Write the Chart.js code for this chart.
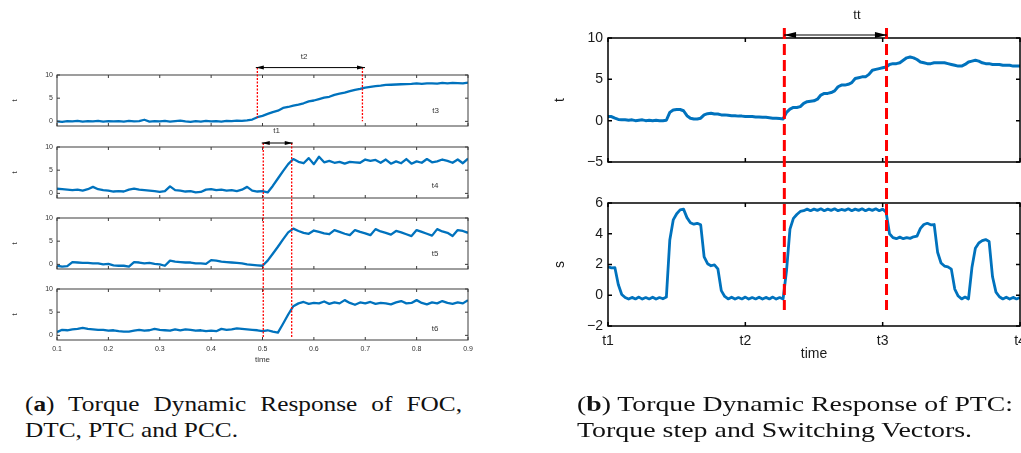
<!DOCTYPE html>
<html>
<head>
<meta charset="utf-8">
<script src="https://cdn.jsdelivr.net/npm/chart.js@4.4.1/dist/chart.umd.min.js"></script>
<style>
html,body{margin:0;padding:0;background:#fff;width:1021px;height:453px;overflow:hidden;position:relative}
canvas{position:absolute}
.cap{position:absolute;font-family:"Liberation Serif","Times New Roman",serif;font-size:21px;line-height:21px;color:#111;white-space:nowrap;transform-origin:0 0}
</style>
</head>
<body>
<canvas id="c1" width="490" height="95" style="left:0;top:40px"></canvas>
<canvas id="c2" width="490" height="72" style="left:0;top:135px"></canvas>
<canvas id="c3" width="490" height="72" style="left:0;top:207px"></canvas>
<canvas id="c4" width="490" height="90" style="left:0;top:279px"></canvas>
<canvas id="r1" width="500" height="185" style="left:540px;top:0"></canvas>
<canvas id="r2" width="500" height="268" style="left:540px;top:185px"></canvas>

<div class="cap" id="a1" style="left:25px;top:394px">(<b>a</b>) Torque Dynamic Response of FOC,</div>
<div class="cap" id="a2" style="left:25px;top:420px">DTC, PTC and PCC.</div>
<div class="cap" id="b1" style="left:577px;top:394px">(<b>b</b>) Torque Dynamic Response of PTC:</div>
<div class="cap" id="b2" style="left:577px;top:420px">Torque step and Switching Vectors.</div>

<script>
// ---------------- DATA ----------------
// left panel: sampled from t = 0.10 to 0.90 every 0.01
const leftStart = 0.10, leftStep = 0.01;
const leftXTicks = [0.1, 0.2, 0.3, 0.4, 0.5, 0.6, 0.7, 0.8, 0.9];
const leftYTicks = [0, 5, 10];

const seriesT3 = [
  0.00,-0.10,0.05,0.00,0.10,-0.05,0.05,0.00,0.10,-0.05,
  0.05,0.00,0.05,-0.05,0.10,0.00,0.05,0.35,-0.05,0.05,
  0.00,0.10,-0.05,0.05,0.15,0.00,-0.10,0.05,-0.05,0.10,
  0.00,0.05,-0.05,0.10,0.05,0.15,0.10,0.20,0.40,0.90,
  1.20,1.60,2.00,2.30,2.90,3.10,3.40,3.60,3.90,4.30,
  4.50,4.80,5.10,5.30,5.70,6.00,6.20,6.50,6.80,7.00,
  7.30,7.45,7.60,7.70,7.85,7.90,7.95,8.00,8.05,8.10,
  8.20,8.10,8.20,8.20,8.15,8.30,8.20,8.30,8.25,8.20,
  8.35
];
const seriesT4 = [
  1.00,0.90,0.80,0.70,0.80,0.60,0.90,1.40,0.90,0.70,
  0.60,0.40,0.50,0.40,0.80,1.00,0.80,0.70,0.60,0.50,
  0.30,0.50,1.50,0.70,0.60,0.40,0.50,0.20,0.30,0.80,
  0.90,0.70,0.80,0.60,0.70,0.50,0.80,1.40,0.60,0.40,
  0.50,0.20,1.60,3.20,4.80,6.30,7.40,6.80,6.50,7.60,
  6.30,7.90,6.70,7.00,6.60,6.80,6.40,6.80,6.70,6.60,
  7.30,7.00,7.20,6.60,7.30,6.40,6.90,6.50,7.40,6.40,
  6.90,6.60,7.40,6.70,6.90,7.30,7.00,6.60,7.30,6.50,
  7.50
];
const seriesT5 = [
  -0.30,-0.50,-0.40,0.50,0.40,0.30,0.30,0.20,0.20,0.00,
  0.10,-0.20,-0.30,-0.30,-0.50,0.50,0.40,0.20,0.30,0.10,
  0.00,-0.30,0.80,0.60,0.50,0.40,0.40,0.20,0.20,0.10,
  0.90,0.80,0.60,0.50,0.40,0.30,0.20,0.00,-0.10,-0.20,
  -0.30,0.80,2.30,3.80,5.40,6.90,7.70,7.20,6.80,6.60,
  7.30,7.00,6.70,6.50,7.40,7.00,6.60,6.30,7.40,7.00,
  6.70,6.30,7.60,7.10,6.80,6.40,7.20,6.90,6.50,6.10,
  7.40,7.00,6.60,6.20,7.60,7.10,6.80,6.10,7.40,7.20,
  6.80
];
const seriesT6 = [
  0.70,1.20,1.10,1.30,1.40,1.60,1.40,1.30,1.20,1.20,
  1.00,1.10,0.90,0.80,0.80,1.00,1.20,1.00,1.10,1.40,
  1.20,1.10,1.00,1.30,1.10,1.30,1.20,1.00,1.10,0.90,
  1.00,0.90,1.40,1.20,1.30,1.50,1.40,1.30,1.20,1.10,
  0.90,1.10,0.80,0.60,2.50,4.50,6.30,6.90,7.20,6.80,
  7.00,6.90,7.30,6.80,7.10,6.90,7.60,7.00,6.60,7.10,
  6.90,7.20,6.80,7.00,6.90,6.70,7.10,7.40,6.90,7.00,
  7.60,7.00,6.70,7.10,6.90,7.40,7.00,6.80,7.10,6.90,
  7.60
];

// right panel: sampled from 0 to 3 (t1..t4) every 0.025
const rightStart = 0, rightStep = 0.025;
const rightXTicks = [0, 1, 2, 3];
const rightXTickLabels = ['t1', 't2', 't3', 't4'];
const torqueYTicks = [-5, 0, 5, 10];
const switchYTicks = [-2, 0, 2, 4, 6];

const torqueStep = [
  0.50,0.50,0.30,0.15,0.10,0.10,0.05,0.10,0.00,0.05,
  0.10,0.00,0.05,0.00,0.05,0.00,0.00,0.05,1.00,1.30,
  1.35,1.35,1.20,0.60,0.30,0.20,0.20,0.30,0.70,0.85,
  0.90,0.80,0.80,0.70,0.70,0.65,0.60,0.60,0.55,0.55,
  0.50,0.50,0.50,0.45,0.45,0.40,0.40,0.35,0.30,0.30,
  0.25,0.20,1.00,1.40,1.60,1.60,1.70,2.10,2.30,2.35,
  2.40,2.60,3.10,3.30,3.30,3.40,3.60,4.10,4.30,4.30,
  4.40,4.60,5.10,5.20,5.30,5.30,5.60,6.10,6.20,6.30,
  6.40,6.50,6.80,6.90,6.90,7.00,7.30,7.60,7.70,7.60,
  7.40,7.10,7.00,6.90,6.90,7.00,7.00,7.00,7.00,6.90,
  6.80,6.70,6.60,6.60,6.80,7.10,7.20,7.30,7.20,7.00,
  6.90,6.90,6.80,6.80,6.80,6.70,6.70,6.70,6.60,6.60,
  6.60
];
const switchVectors = [
  1.85,1.78,1.80,0.70,0.05,-0.15,-0.25,-0.14,-0.24,-0.12,
  -0.25,-0.15,-0.24,-0.13,-0.25,-0.15,-0.23,-0.12,3.60,4.90,
  5.30,5.55,5.60,5.05,4.72,4.62,4.68,4.58,2.50,2.05,
  1.92,1.98,1.72,0.30,-0.08,-0.24,-0.13,-0.25,-0.15,-0.24,
  -0.12,-0.25,-0.15,-0.24,-0.13,-0.25,-0.14,-0.24,-0.12,-0.25,
  -0.15,-0.24,1.60,4.30,5.00,5.25,5.45,5.50,5.60,5.50,
  5.60,5.52,5.62,5.50,5.60,5.52,5.62,5.50,5.58,5.52,
  5.62,5.50,5.60,5.52,5.62,5.50,5.60,5.52,5.62,5.50,
  5.60,5.40,4.00,3.75,3.68,3.78,3.68,3.75,3.70,3.80,
  3.85,4.35,4.60,4.68,4.58,4.60,2.80,2.10,1.90,1.85,
  1.70,0.40,-0.05,-0.24,-0.12,-0.24,1.80,3.05,3.40,3.55,
  3.62,3.50,1.20,0.20,-0.10,-0.24,-0.13,-0.25,-0.14,-0.24,
  -0.15
];

// ---------------- HELPERS ----------------
const toXY = (vals, t0, dt) => vals.map((v, i) => ({ x: +(t0 + i * dt).toFixed(4), y: v }));
const minusFmt = v => (v < 0 ? '\u2212' + Math.abs(v) : String(v));
const SANS = '"Liberation Sans", Arial, Helvetica, sans-serif';
const BLUE = '#0072BD';

const MARKS = {};
const FRAMES = {};

const framePlugin = {
  id: 'mframe',
  afterDatasetsDraw(chart) {
    const o = FRAMES[chart.canvas.id]; if (!o) return;
    const { ctx, chartArea: a, scales: { x, y } } = chart;
    ctx.save();
    ctx.strokeStyle = o.color; ctx.lineWidth = o.width;
    ctx.strokeRect(a.left, a.top, a.right - a.left, a.bottom - a.top);
    ctx.beginPath();
    o.xTicks.forEach(v => {
      const px = x.getPixelForValue(v);
      ctx.moveTo(px, a.bottom); ctx.lineTo(px, a.bottom - o.len);
      ctx.moveTo(px, a.top); ctx.lineTo(px, a.top + o.len);
    });
    o.yTicks.forEach(v => {
      const py = y.getPixelForValue(v);
      ctx.moveTo(a.left, py); ctx.lineTo(a.left + o.len, py);
      ctx.moveTo(a.right, py); ctx.lineTo(a.right - o.len, py);
    });
    ctx.stroke();
    ctx.restore();
  }
};

const marksPlugin = {
  id: 'mmarks',
  afterDraw(chart) {
    const o = MARKS[chart.canvas.id]; if (!o) return;
    const { ctx, scales: { x, y }, height } = chart;
    const py = v => (v === 'top' ? 0 : v === 'bottom' ? height : y.getPixelForValue(v));
    ctx.save();
    (o.vlines || []).forEach(l => {
      ctx.strokeStyle = '#ff0000'; ctx.lineWidth = o.vWidth;
      ctx.setLineDash(o.vDash); ctx.lineDashOffset = o.vDashOffset || 0;
      const px = x.getPixelForValue(l.x);
      ctx.beginPath(); ctx.moveTo(px, py(l.y0)); ctx.lineTo(px, py(l.y1)); ctx.stroke();
    });
    ctx.setLineDash([]);
    (o.arrows || []).forEach(ar => {
      const x0 = x.getPixelForValue(ar.x0), x1 = x.getPixelForValue(ar.x1), yy = py(ar.y);
      ctx.strokeStyle = '#000'; ctx.fillStyle = '#000'; ctx.lineWidth = o.aWidth;
      ctx.beginPath(); ctx.moveTo(x0, yy); ctx.lineTo(x1, yy); ctx.stroke();
      const L = o.headLen, W = o.headW;
      ctx.beginPath(); ctx.moveTo(x0, yy); ctx.lineTo(x0 + L, yy - W); ctx.lineTo(x0 + L, yy + W); ctx.closePath(); ctx.fill();
      ctx.beginPath(); ctx.moveTo(x1, yy); ctx.lineTo(x1 - L, yy - W); ctx.lineTo(x1 - L, yy + W); ctx.closePath(); ctx.fill();
    });
    (o.labels || []).forEach(t => {
      ctx.font = o.labelFont; ctx.fillStyle = o.labelColor;
      ctx.textAlign = 'center'; ctx.textBaseline = 'middle';
      ctx.fillText(t.text, x.getPixelForValue(t.x), py(t.y));
    });
    ctx.restore();
  }
};

function build(id, g) {
  FRAMES[id] = g.frame;
  MARKS[id] = g.marks;
  return new Chart(document.getElementById(id), {
    type: 'line',
    data: { datasets: [{ data: g.data, borderColor: BLUE, borderWidth: g.lw, pointRadius: 0, tension: 0, fill: false, borderJoinStyle: 'round' }] },
    options: {
      responsive: false, animation: false, events: [],
      layout: { padding: g.pad },
      plugins: { legend: { display: false }, tooltip: { enabled: false } },
      scales: {
        x: {
          type: 'linear', min: g.xMin, max: g.xMax, display: g.showX,
          afterBuildTicks: s => { s.ticks = g.xTicks.map(v => ({ value: v })); },
          afterFit: s => { s.height = g.xAxisH || 0; },
          grid: { display: false, drawTicks: false }, border: { display: false },
          ticks: { autoSkip: false, maxRotation: 0, minRotation: 0, padding: g.xTickPad || 0, font: { family: SANS, size: g.tickSize }, color: g.textColor, callback: g.xFmt },
          title: { display: !!g.xTitle, text: g.xTitle || '', font: { family: SANS, size: g.titleSize }, color: g.textColor, padding: { top: 0, bottom: g.xTitlePad || 0 } }
        },
        y: {
          type: 'linear', min: g.yMin, max: g.yMax,
          afterBuildTicks: s => { s.ticks = g.yTicks.map(v => ({ value: v })); },
          afterFit: s => { s.width = g.yAxisW; },
          grid: { display: false, drawTicks: false }, border: { display: false },
          ticks: { autoSkip: false, padding: g.yTickPad, font: { family: SANS, size: g.tickSize }, color: g.textColor, callback: v => minusFmt(v) },
          title: { display: true, text: g.yTitle, font: { family: SANS, size: g.titleSize }, color: g.textColor, padding: { top: g.yTitlePad, bottom: 0 } }
        }
      }
    },
    plugins: [framePlugin, marksPlugin]
  });
}

// ---------------- LEFT PANEL ----------------
const leftCommon = {
  xMin: 0.1, xMax: 0.9, xTicks: leftXTicks, yMin: -1, yMax: 10, yTicks: leftYTicks,
  lw: 2.3, tickSize: 7, titleSize: 8, textColor: '#333', yAxisW: 57, yTickPad: 4,
  yTitle: 't', yTitlePad: 10, xFmt: v => v.toFixed(1)
};
const leftFrame = { color: '#3c3c3c', width: 1, len: 3, xTicks: leftXTicks, yTicks: leftYTicks };
const leftMarkStyle = { vWidth: 1.3, vDash: [2, 1.5], aWidth: 1, headLen: 8, headW: 2, labelFont: '8px ' + SANS, labelColor: '#333' };

build('c1', Object.assign({}, leftCommon, {
  data: toXY(seriesT3, leftStart, leftStep), showX: false,
  pad: { left: 0, top: 35, right: 22, bottom: 9 },
  frame: leftFrame,
  marks: Object.assign({}, leftMarkStyle, {
    vlines: [{ x: 0.49, y0: 11.6, y1: 0.7 }, { x: 0.6945, y0: 11.6, y1: 0 }],
    arrows: [{ x0: 0.487, x1: 0.6995, y: 11.6 }],
    labels: [{ text: 't2', x: 0.581, y: 13.9 }, { text: 't1', x: 0.5276, y: -2.0 }, { text: 't3', x: 0.837, y: 2.25 }]
  })
}));
build('c2', Object.assign({}, leftCommon, {
  data: toXY(seriesT4, leftStart, leftStep), showX: false,
  pad: { left: 0, top: 12, right: 22, bottom: 9 },
  frame: leftFrame,
  marks: Object.assign({}, leftMarkStyle, {
    vlines: [{ x: 0.5015, y0: 10.86, y1: 'bottom' }, { x: 0.5568, y0: 10.86, y1: 'bottom' }],
    arrows: [{ x0: 0.4985, x1: 0.5589, y: 10.86 }],
    labels: [{ text: 't4', x: 0.836, y: 1.65 }]
  })
}));
build('c3', Object.assign({}, leftCommon, {
  data: toXY(seriesT5, leftStart, leftStep), showX: false,
  pad: { left: 0, top: 11, right: 22, bottom: 10 },
  frame: leftFrame,
  marks: Object.assign({}, leftMarkStyle, {
    vlines: [{ x: 0.5015, y0: 'top', y1: 'bottom' }, { x: 0.5568, y0: 'top', y1: 'bottom' }],
    labels: [{ text: 't5', x: 0.836, y: 2.24 }]
  })
}));
build('c4', Object.assign({}, leftCommon, {
  data: toXY(seriesT6, leftStart, leftStep), showX: true,
  xAxisH: 29, xTickPad: 5, xTitle: 'time', xTitlePad: 4,
  pad: { left: 0, top: 10, right: 22, bottom: 0 },
  frame: leftFrame,
  marks: Object.assign({}, leftMarkStyle, {
    vlines: [{ x: 0.5015, y0: 'top', y1: -0.57 }, { x: 0.5568, y0: 'top', y1: -0.57 }],
    labels: [{ text: 't6', x: 0.836, y: 1.37 }]
  })
}));

// ---------------- RIGHT PANEL ----------------
const rightCommon = {
  xMin: 0, xMax: 3, xTicks: rightXTicks, lw: 3, tickSize: 14, titleSize: 14, textColor: '#1a1a1a',
  yAxisW: 68, yTickPad: 5, yTitlePad: 12,
  xFmt: v => rightXTickLabels[rightXTicks.indexOf(v)]
};
const rightMarkStyle = { vWidth: 3, vDash: [11, 5], aWidth: 1.2, headLen: 12, headW: 3, labelFont: '13px ' + SANS, labelColor: '#1a1a1a' };

build('r1', Object.assign({}, rightCommon, {
  data: toXY(torqueStep, rightStart, rightStep), showX: false,
  yMin: -5, yMax: 10, yTicks: torqueYTicks, yTitle: 't',
  pad: { left: 0, top: 38, right: 20, bottom: 23 },
  frame: { color: '#000', width: 1.5, len: 4, xTicks: rightXTicks, yTicks: torqueYTicks },
  marks: Object.assign({}, rightMarkStyle, {
    vlines: [{ x: 1.284, y0: 11.2, y1: 'bottom' }, { x: 2.028, y0: 11.2, y1: 'bottom' }],
    arrows: [{ x0: 1.282, x1: 2.031, y: 10.36 }],
    labels: [{ text: 'tt', x: 1.813, y: 12.78 }]
  })
}));
build('r2', Object.assign({}, rightCommon, {
  data: toXY(switchVectors, rightStart, rightStep), showX: true, lw: 2.8,
  xAxisH: 40, xTickPad: 7, xTitle: 'time', xTitlePad: 3,
  yMin: -2, yMax: 6, yTicks: switchYTicks, yTitle: 's',
  pad: { left: 0, top: 18, right: 20, bottom: 87 },
  frame: { color: '#000', width: 1.5, len: 4, xTicks: rightXTicks, yTicks: switchYTicks },
  marks: Object.assign({}, rightMarkStyle, {
    vDashOffset: 13,
    vlines: [{ x: 1.284, y0: 'top', y1: -0.96 }, { x: 2.028, y0: 'top', y1: -0.96 }]
  })
}));

// ---------------- CAPTIONS ----------------
function fitCaption(l1, l2, w1, w2) {
  const e1 = document.getElementById(l1), e2 = document.getElementById(l2);
  const s = w2 / e2.getBoundingClientRect().width;
  e2.style.transform = 'scaleX(' + s + ')';
  const n1 = e1.getBoundingClientRect().width;
  if (n1 * s <= w1) {
    const spaces = (e1.textContent.match(/ /g) || []).length;
    e1.style.wordSpacing = ((w1 / s - n1) / spaces) + 'px';
    e1.style.transform = 'scaleX(' + s + ')';
  } else {
    e1.style.transform = 'scaleX(' + (w1 / n1) + ')';
  }
}
fitCaption('a1', 'a2', 437, 213);
fitCaption('b1', 'b2', 436, 395);
</script>
</body>
</html>
